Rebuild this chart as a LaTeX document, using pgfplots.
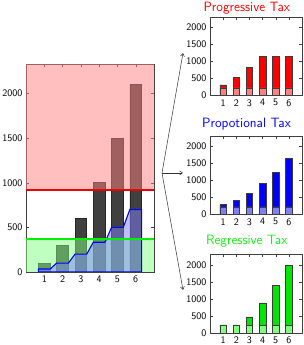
\documentclass[border=0pt]{standalone}
\usepackage{pgfplots}
\pgfplotsset{compat=1.18}
\usetikzlibrary{arrows.meta}
\definecolor{lred}{RGB}{255,128,128}
\definecolor{lgreen}{RGB}{128,255,128}
\definecolor{lblue}{RGB}{128,128,255}
\definecolor{bargray}{RGB}{64,64,64}
\definecolor{mygreen}{RGB}{0,230,0}
\definecolor{titlegreen}{RGB}{20,240,20}
\definecolor{edgec}{RGB}{60,60,60}
\definecolor{linered}{RGB}{235,0,0}
\definecolor{linegreen}{RGB}{0,240,0}
\pgfplotsset{
  every axis/.append style={
    scale only axis, anchor=south west,
    tick label style={font=\sffamily\fontsize{10}{12}\selectfont},
    /pgf/number format/assume math mode=true,
    /pgf/number format/1000 sep={},
    scaled ticks=false,
    major tick length=3pt,
    axis line style={black!75}, every tick/.style={black!75},
    xtick={1,...,6}, ytick={0,500,1000,1500,2000},
    xmin=0, xmax=7, ymin=0,
  },
  sub/.style={width=92pt, height=78.5pt, ymax=2300},
  subbar/.style={ybar, bar width=0.5, bar shift=0pt, draw=edgec, line width=0.5pt},
}
\pgfplotstableread{
x inc tax
1 100 33.3
2 300 100
3 600 200
4 1000 333.3
5 1500 500
6 2100 700
}\maindata
\pgfplotstableread{
x prog prop regr base
1 320 295 240 230
2 530 430 240 230
3 830 635 470 230
4 1160 912 880 230
5 1160 1245 1390 230
6 1160 1657 1990 230
}\subdata
\begin{document}
\begin{tikzpicture}
\useasboundingbox (0,0) rectangle (303pt,345pt);
% main axis
\begin{axis}[at={(26pt,73pt)}, width=128pt, height=208pt, ymax=2330]
\addplot[ybar, bar width=0.64, bar shift=0pt, fill=bargray, draw=black!85, line width=0.5pt] table[x=x,y=inc]{\maindata};
\addplot[fill=lred, fill opacity=0.5, draw=none] coordinates {(0,920) (7,920) (7,2330) (0,2330)} -- cycle;
\addplot[fill=lgreen, fill opacity=0.5, draw=none] coordinates {(0,0) (7,0) (7,370) (0,370)} -- cycle;
\addplot[fill=lblue, fill opacity=0.5, draw=blue, line width=1.1pt] coordinates {
 (0.68,0) (0.68,33.3) (1.32,33.3) (1.68,100) (2.32,100) (2.68,200) (3.32,200)
 (3.68,333.3) (4.32,333.3) (4.68,500) (5.32,500) (5.68,700) (6.32,700) (6.32,0)} -- cycle;
\addplot[draw=linegreen, line width=1.3pt, no markers] coordinates {(0,370) (7,370)};
\addplot[draw=linered, line width=1.3pt, no markers, opacity=1, draw opacity=1] coordinates {(0,920) (7,920)};
\end{axis}
% progressive
\begin{axis}[sub, at={(210pt,249.3pt)}]
\addplot[subbar, fill=red] table[x=x,y=prog]{\subdata};
\addplot[subbar, fill=lred] table[x=x,y=base]{\subdata};
\end{axis}
% proportional
\begin{axis}[sub, at={(210pt,130.3pt)}]
\addplot[subbar, fill=blue] table[x=x,y=prop]{\subdata};
\addplot[subbar, fill=lblue] table[x=x,y=base]{\subdata};
\end{axis}
% regressive
\begin{axis}[sub, at={(210pt,12pt)}]
\addplot[subbar, fill=mygreen] table[x=x,y=regr]{\subdata};
\addplot[subbar, fill=lgreen] table[x=x,y=base]{\subdata};
\end{axis}
\node[anchor=base, font=\sffamily\fontsize{13.5}{15}\selectfont, text=red] at (246.7pt,333.3pt) {Progressive Tax};
\node[anchor=base, font=\sffamily\fontsize{13.5}{15}\selectfont, text=blue] at (246.5pt,217.7pt) {Propotional Tax};
\node[anchor=base, font=\sffamily\fontsize{13.5}{15}\selectfont, text=titlegreen] at (246.7pt,100pt) {Regressive Tax};
\draw[black!80, line width=0.5pt, -{Straight Barb[length=3pt,width=4pt]}] (162pt,172pt) -- (183pt,292pt);
\draw[black!80, line width=0.5pt, -{Straight Barb[length=3pt,width=4pt]}] (162pt,172pt) -- (183pt,172pt);
\draw[black!80, line width=0.5pt, -{Straight Barb[length=3pt,width=4pt]}] (162pt,172pt) -- (183pt,55pt);
\end{tikzpicture}
\end{document}
